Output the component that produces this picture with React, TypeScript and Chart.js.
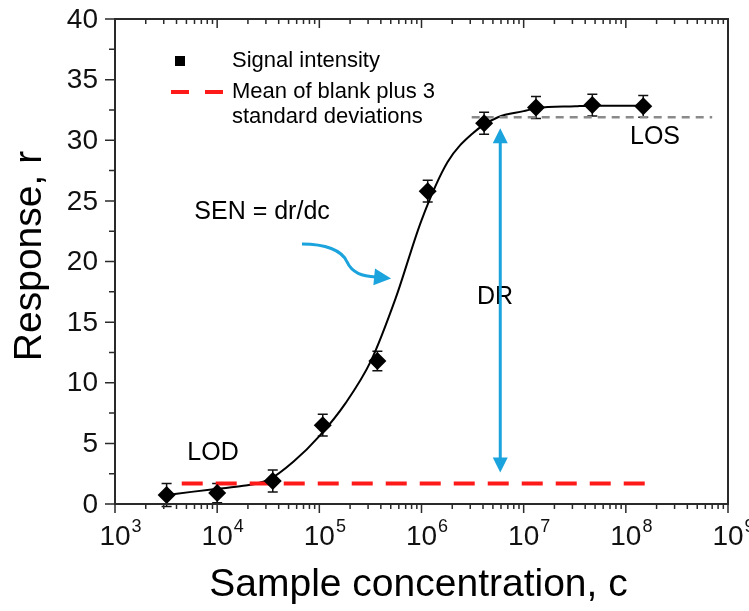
import { useEffect, useRef } from "react";
import { Chart, registerables } from "chart.js";

Chart.register(...registerables);

// ---- data ----
const concentrations = [3.2e3, 1.0e4, 3.5e4, 1.08e5, 3.7e5, 1.15e6, 4.1e6, 1.32e7, 4.7e7, 1.48e8];
const signal = [0.75, 0.9, 1.9, 6.5, 11.8, 25.8, 31.4, 32.7, 32.9, 32.8];
const signalErr = [0.95, 0.8, 0.9, 0.9, 0.8, 0.9, 0.9, 0.9, 0.9, 0.9];

const fitX = [3.2e3, 5.6e3, 1e4, 1.8e4, 3.2e4, 5.6e4, 1e5, 1.8e5, 3.2e5, 5.6e5, 1e6, 1.8e6, 3.2e6, 5.6e6, 1e7, 1.35e7, 3.2e7, 4.6e7, 1e8, 1.48e8];
const fitY = [0.75, 1.0, 1.25, 1.5, 2.0, 3.5, 5.6, 8.3, 11.8, 17.0, 23.4, 28.2, 30.6, 31.9, 32.4, 32.65, 32.8, 32.85, 32.85, 32.85];

const blankX = [4.5e3, 1.55e8];
const blankLevel = 1.7;
const losX = [3.1e6, 7e8];
const losLevel = 31.9;

const drX = 5.9e6;
const drTop = 31.0;
const drBottom = 2.6;

// curved SEN arrow (data coordinates)
const senArrowX = [6.76e4, 1.135e5, 1.667e5, 1.867e5, 2.09e5, 2.62e5, 3.59e5, 5.04e5];
const senArrowY = [21.44, 21.44, 20.95, 19.96, 19.05, 18.8, 18.72, 18.6];

const yMajor = [0, 5, 10, 15, 20, 25, 30, 35, 40];
const yMinor = [2.5, 7.5, 12.5, 17.5, 22.5, 27.5, 32.5, 37.5];
const xMajor = [1e3, 1e4, 1e5, 1e6, 1e7, 1e8, 1e9];
const xExp = ["3", "4", "5", "6", "7", "8", "9"];
const xMinorMult = [2, 3, 4, 5, 6, 7, 8, 9];

const annotations = [
  { text: "SEN = dr/dc", x: 2.75e4, y: 24.1 },
  { text: "DR", x: 5.24e6, y: 17.1 },
  { text: "LOD", x: 9.1e3, y: 4.2 },
  { text: "LOS", x: 1.93e8, y: 30.3 },
];

const legendItems = ["Signal intensity", "Mean of blank plus 3", "standard deviations"];

const FONT = "'Liberation Sans', Arial, sans-serif";
const BLUE = "#1aa3dc";
const AXIS = "#2a2a2a";

function arrowHead(ctx: CanvasRenderingContext2D, tx: number, ty: number, angle: number, len: number, halfW: number) {
  ctx.save();
  ctx.translate(tx, ty);
  ctx.rotate(angle);
  ctx.beginPath();
  ctx.moveTo(0, 0);
  ctx.lineTo(-len, -halfW);
  ctx.lineTo(-len, halfW);
  ctx.closePath();
  ctx.fill();
  ctx.restore();
}

const overlay = {
  id: "overlay",
  beforeDatasetsDraw(chart: any) {
    const { ctx, scales } = chart;
    const x = scales.x, y = scales.y;
    ctx.save();
    ctx.strokeStyle = "#111";
    ctx.lineWidth = 1.5;
    concentrations.forEach((c, i) => {
      const px = x.getPixelForValue(c);
      const p1 = y.getPixelForValue(signal[i] + signalErr[i]);
      const p2 = y.getPixelForValue(signal[i] - signalErr[i]);
      ctx.beginPath();
      ctx.moveTo(px, p1);
      ctx.lineTo(px, p2);
      ctx.moveTo(px - 5, p1);
      ctx.lineTo(px + 5, p1);
      ctx.moveTo(px - 5, p2);
      ctx.lineTo(px + 5, p2);
      ctx.stroke();
    });
    ctx.restore();
  },
  afterDraw(chart: any) {
    const { ctx, chartArea: a, scales } = chart;
    const x = scales.x, y = scales.y;
    ctx.save();

    // frame
    ctx.strokeStyle = AXIS;
    ctx.lineWidth = 2;
    ctx.strokeRect(a.left, a.top, a.right - a.left, a.bottom - a.top);

    // y ticks
    ctx.lineWidth = 1.5;
    ctx.beginPath();
    yMajor.forEach((v) => {
      const py = y.getPixelForValue(v);
      ctx.moveTo(a.left - 10, py);
      ctx.lineTo(a.left, py);
    });
    yMinor.forEach((v) => {
      const py = y.getPixelForValue(v);
      ctx.moveTo(a.left - 6, py);
      ctx.lineTo(a.left, py);
    });
    // x ticks (bottom outward, top inward)
    xMajor.forEach((v) => {
      const px = x.getPixelForValue(v);
      ctx.moveTo(px, a.bottom);
      ctx.lineTo(px, a.bottom + 9);
      ctx.moveTo(px, a.top);
      ctx.lineTo(px, a.top + 9);
    });
    xMajor.slice(0, -1).forEach((v) => {
      xMinorMult.forEach((m) => {
        const px = x.getPixelForValue(v * m);
        ctx.moveTo(px, a.bottom);
        ctx.lineTo(px, a.bottom + 5);
        ctx.moveTo(px, a.top);
        ctx.lineTo(px, a.top + 5);
      });
    });
    ctx.stroke();

    // y labels
    ctx.fillStyle = "#111";
    ctx.font = `28px ${FONT}`;
    ctx.textAlign = "right";
    ctx.textBaseline = "middle";
    yMajor.forEach((v) => {
      ctx.fillText(String(v), a.left - 17, y.getPixelForValue(v) + 1);
    });

    // x labels with superscript
    xMajor.forEach((v, i) => {
      const px = x.getPixelForValue(v);
      ctx.font = `28px ${FONT}`;
      ctx.textAlign = "center";
      ctx.textBaseline = "alphabetic";
      const w = ctx.measureText("10").width;
      ctx.fillText("10", px, a.bottom + 41);
      ctx.font = `18px ${FONT}`;
      ctx.textAlign = "left";
      ctx.fillText(xExp[i], px + w / 2 + 1, a.bottom + 28);
    });

    // axis titles
    ctx.fillStyle = "#000";
    ctx.font = `39px ${FONT}`;
    ctx.textAlign = "center";
    ctx.textBaseline = "alphabetic";
    ctx.fillText("Sample concentration, c", (a.left + a.right) / 2 - 3, 596);
    ctx.save();
    ctx.translate(41, 256);
    ctx.rotate(-Math.PI / 2);
    ctx.fillText("Response, r", 0, 0);
    ctx.restore();

    // legend
    ctx.fillStyle = "#000";
    ctx.fillRect(175, 56, 10, 10);
    ctx.strokeStyle = "#ff1a1a";
    ctx.lineWidth = 4;
    ctx.beginPath();
    ctx.moveTo(171, 92);
    ctx.lineTo(189, 92);
    ctx.moveTo(205, 92);
    ctx.lineTo(223, 92);
    ctx.stroke();
    ctx.font = `22px ${FONT}`;
    ctx.textAlign = "left";
    ctx.textBaseline = "middle";
    ctx.fillText(legendItems[0], 232, 61);
    ctx.fillText(legendItems[1], 232, 92);
    ctx.fillText(legendItems[2], 232, 117);

    // annotations
    ctx.font = `25px ${FONT}`;
    ctx.textAlign = "center";
    ctx.textBaseline = "middle";
    annotations.forEach((t) => {
      ctx.fillText(t.text, x.getPixelForValue(t.x), y.getPixelForValue(t.y));
    });

    // DR double arrow
    ctx.strokeStyle = BLUE;
    ctx.fillStyle = BLUE;
    ctx.lineWidth = 3;
    const dx = x.getPixelForValue(drX);
    const dTop = y.getPixelForValue(drTop);
    const dBot = y.getPixelForValue(drBottom);
    ctx.beginPath();
    ctx.moveTo(dx, dTop + 12);
    ctx.lineTo(dx, dBot - 12);
    ctx.stroke();
    arrowHead(ctx, dx, dTop, -Math.PI / 2, 15, 7.5);
    arrowHead(ctx, dx, dBot, Math.PI / 2, 15, 7.5);

    // SEN curved arrow
    const P = senArrowX.map((v, i) => [x.getPixelForValue(v), y.getPixelForValue(senArrowY[i])]);
    ctx.beginPath();
    ctx.moveTo(P[0][0], P[0][1]);
    ctx.bezierCurveTo(P[1][0], P[1][1], P[2][0], P[2][1], P[3][0], P[3][1]);
    ctx.bezierCurveTo(P[4][0], P[4][1], P[5][0], P[5][1], P[6][0], P[6][1]);
    ctx.stroke();
    const tip = P[7];
    const base = P[6];
    arrowHead(ctx, tip[0], tip[1], Math.atan2(tip[1] - base[1], tip[0] - base[0]), 17, 8.5);

    ctx.restore();
  },
};

export default function App() {
  const ref = useRef<HTMLCanvasElement | null>(null);
  useEffect(() => {
    if (!ref.current) return;
    const chart = new Chart(ref.current, {
      type: "scatter",
      data: {
        datasets: [
          {
            label: "Signal intensity",
            data: concentrations.map((c, i) => ({ x: c, y: signal[i] })),
            pointStyle: "rectRot",
            pointRadius: 9,
            backgroundColor: "#000",
            borderColor: "#000",
            borderWidth: 0,
            showLine: false,
            order: 0,
          },
          {
            label: "Mean of blank plus 3 standard deviations",
            data: blankX.map((c) => ({ x: c, y: blankLevel })),
            showLine: true,
            borderColor: "#ff1a1a",
            borderWidth: 4,
            borderDash: [21, 13],
            pointRadius: 0,
            order: 1,
          },
          {
            label: "LOS",
            data: losX.map((c) => ({ x: c, y: losLevel })),
            showLine: true,
            borderColor: "#8a8a8a",
            borderWidth: 2.5,
            borderDash: [8, 6],
            pointRadius: 0,
            order: 2,
          },
          {
            label: "Fit",
            data: fitX.map((c, i) => ({ x: c, y: fitY[i] })),
            showLine: true,
            borderColor: "#000",
            borderWidth: 2,
            pointRadius: 0,
            cubicInterpolationMode: "monotone",
            order: 3,
          },
        ],
      },
      options: {
        animation: false,
        responsive: false,
        events: [],
        layout: { padding: { left: 115, top: 19, right: 21, bottom: 107 } },
        scales: {
          x: { type: "logarithmic", min: 1e3, max: 1e9, display: false },
          y: { type: "linear", min: 0, max: 40, display: false },
        },
        plugins: { legend: { display: false }, tooltip: { enabled: false } },
      },
      plugins: [overlay],
    } as any);
    return () => chart.destroy();
  }, []);
  return (
    <canvas
      ref={ref}
      width={749}
      height={611}
      style={{ position: "fixed", left: 0, top: 0, width: 749, height: 611, display: "block", background: "#fff" }}
    />
  );
}
